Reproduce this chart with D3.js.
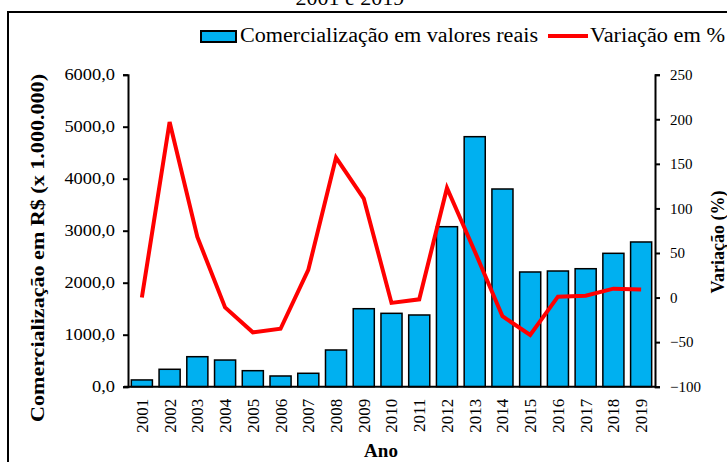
<!DOCTYPE html>
<html><head><meta charset="utf-8">
<script src="https://cdn.jsdelivr.net/npm/d3@7/dist/d3.min.js"></script>
<style>body{margin:0;background:#fff}svg{display:block}text{font-family:"Liberation Serif","Times New Roman",serif}</style>
</head><body><svg id="c" width="727" height="462"></svg>
<script>
const years = ["2001","2002","2003","2004","2005","2006","2007","2008","2009","2010","2011","2012","2013","2014","2015","2016","2017","2018","2019"];
const comercializacao = [130,335,577,513,308,206,258,706,1500,1411,1379,3077,4808,3802,2206,2225,2269,2565,2783];
const variacao = [0,197,68,-11,-39,-35,31,157,111,-6,-2,123,52,-21,-42,1,2,10,9];
const leftTicks = [0,1000,2000,3000,4000,5000,6000];
const rightTicks = [-100,-50,0,50,100,150,200,250];

const svg = d3.select("#c");
const L = 128, R = 655, T = 74.7, B = 386.7;
const x = d3.scaleBand().domain(years).range([L, R]).paddingInner(0.24).paddingOuter(0.12);
const y = d3.scaleLinear().domain([0, 6000]).range([B, T]);
const y2 = d3.scaleLinear().domain([-100, 250]).range([B, T]);

function stretch(sel, k) {
  sel.each(function () {
    const w = this.getComputedTextLength();
    d3.select(this).attr("textLength", w * k).attr("lengthAdjust", "spacingAndGlyphs");
  });
}

// frame
svg.append("rect").attr("x",8).attr("y",12).attr("width",740).attr("height",470)
  .attr("fill","none").attr("stroke","#000").attr("stroke-width",2);

// title (cut off at top, as in the reference)
svg.append("text").attr("x",350).attr("y",5).attr("text-anchor","middle")
  .style("font-size","22px").text("2001 e 2019");

// bars
svg.append("g").selectAll("rect").data(years).join("rect")
  .attr("x", d => x(d)).attr("width", x.bandwidth())
  .attr("y", (d,i) => y(comercializacao[i]))
  .attr("height", (d,i) => B - y(comercializacao[i]))
  .attr("fill","#00B0F0").attr("stroke","#000").attr("stroke-width",1.5);

// line
const line = d3.line().x((d,i) => x(years[i]) + x.bandwidth()/2).y(d => y2(d));
svg.append("path").datum(variacao).attr("d", line)
  .attr("fill","none").attr("stroke","#FF0000").attr("stroke-width",4).attr("stroke-linejoin","miter");

// axes
const fmt = d => d3.format(".1f")(d).replace(".", ",");
const ax = svg.append("g").attr("transform",`translate(${L},0)`)
  .call(d3.axisLeft(y).tickValues(leftTicks).tickFormat(fmt).tickSizeOuter(0).tickSize(5).tickPadding(8));
const ax2 = svg.append("g").attr("transform",`translate(${R},0)`)
  .call(d3.axisRight(y2).tickValues(rightTicks).tickSizeOuter(0).tickSize(5).tickPadding(10));
const axb = svg.append("g").attr("transform",`translate(0,${B})`)
  .call(d3.axisBottom(x).tickSize(0).tickSizeOuter(0));
[ax, ax2, axb].forEach(g => {
  g.attr("font-family", null).attr("font-size", null);
  g.select(".domain").attr("stroke","#000").attr("stroke-width",2);
  g.selectAll(".tick line").attr("stroke","#000").attr("stroke-width",2);
  g.selectAll("text").style("font-family",'"Liberation Serif",serif').attr("fill","#000");
});
ax.selectAll("text").style("font-size","16px");
stretch(ax.selectAll(".tick text"), 1.15);
ax2.selectAll("text").style("font-size","15px");
axb.selectAll("text").style("font-size","17px");
axb.select(".domain").attr("d", `M${L-4},0H${R}`);
axb.selectAll(".tick text").attr("transform","rotate(-90)").attr("text-anchor","end")
  .attr("x",-12).attr("y",0).attr("dy","0.35em");

// axis titles
const lt = svg.append("text").attr("transform","translate(44,248) rotate(-90)").attr("text-anchor","middle")
  .style("font-size","19px").style("font-weight","bold").text("Comercialização em R$ (x 1.000.000)");
lt.attr("textLength", 348).attr("lengthAdjust","spacingAndGlyphs");
svg.append("text").attr("transform","translate(724,242) rotate(-90)").attr("text-anchor","middle")
  .style("font-size","18px").style("font-weight","bold").text("Variação (%)");
svg.append("text").attr("x",381).attr("y",457).attr("text-anchor","middle")
  .style("font-size","19px").style("font-weight","bold").text("Ano");

// legend
const lg = svg.append("g");
lg.append("rect").attr("x",201).attr("y",31).attr("width",35).attr("height",11)
  .attr("fill","#00B0F0").attr("stroke","#000").attr("stroke-width",2);
lg.append("text").attr("x",240).attr("y",42).style("font-size","20px")
  .attr("textLength",298).attr("lengthAdjust","spacingAndGlyphs").text("Comercialização em valores reais");
lg.append("line").attr("x1",548).attr("x2",588).attr("y1",36).attr("y2",36)
  .attr("stroke","#FF0000").attr("stroke-width",4);
lg.append("text").attr("x",590).attr("y",42).style("font-size","20px")
  .attr("textLength",135).attr("lengthAdjust","spacingAndGlyphs").text("Variação em %");
</script></body></html>
